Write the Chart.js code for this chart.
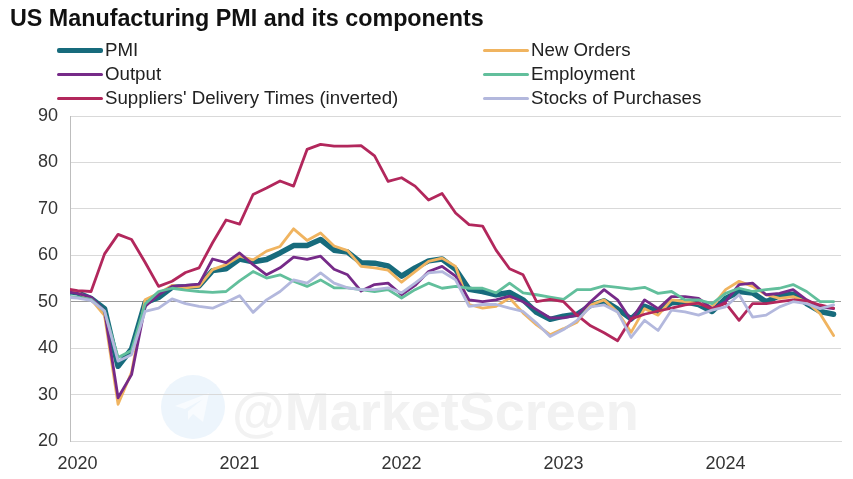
<!DOCTYPE html>
<html>
<head>
<meta charset="utf-8">
<script src="https://cdn.jsdelivr.net/npm/chart.js@4.4.1/dist/chart.umd.min.js"></script>
<style>
html,body{margin:0;padding:0;background:#fff;}
#wrap{position:relative;width:853px;height:479px;overflow:hidden;font-family:"Liberation Sans",Arial,sans-serif;}
#title{position:absolute;left:10px;top:7px;font-size:23.3px;line-height:23px;font-weight:bold;color:#111;white-space:nowrap;}
.leg{position:absolute;height:20px;display:flex;align-items:center;font-size:18.7px;line-height:20px;color:#222;white-space:nowrap;}
.leg .sw{width:46px;margin-right:2px;border-radius:2px;}
#wm{position:absolute;left:232px;top:384px;font-size:54px;line-height:54px;font-weight:bold;color:#f2f2f2;white-space:nowrap;}
#wmicon{position:absolute;left:161px;top:375px;}
canvas{position:absolute;left:0;top:0;}
</style>
</head>
<body>
<div id="wrap">
  <svg id="wmicon" width="64" height="64" viewBox="0 0 64 64"><circle cx="32" cy="32" r="32" fill="#edf5fc"/><polygon points="14,31 48,18 42,47 32,39 27,45 27,36 42,24 24,34" fill="#f8fbfe"/></svg>
  <div id="wm">@MarketScreen</div>
  <canvas id="c" width="853" height="479"></canvas>
  <div id="title">US Manufacturing PMI and its components</div>
  <div id="legend"></div>
</div>
<script>
// ---- Data (Dec 2019 .. Sep 2024, monthly; Dec 2019 sits just left of the axis) ----
const yearLabels = ['2020', '2021', '2022', '2023', '2024'];

const pmi = [52.4,
  51.9, 50.7, 48.5, 36.1, 39.8, 49.8, 50.9, 53.1, 53.2, 53.4, 56.7, 57.1,
  59.2, 58.6, 59.1, 60.5, 62.1, 62.1, 63.4, 61.1, 60.7, 58.4, 58.3, 57.7,
  55.5, 57.3, 58.8, 59.2, 57.0, 52.7, 52.2, 51.5, 52.0, 50.4, 47.7, 46.2,
  46.9, 47.3, 49.2, 50.2, 48.4, 46.3, 49.0, 47.9, 49.8, 50.0, 49.4, 47.9,
  50.7, 52.2, 51.9, 50.0, 51.3, 51.6, 49.6, 47.9, 47.3];

const newOrders = [52.5,
  52.0, 50.5, 47.0, 27.9, 34.8, 50.4, 51.8, 53.5, 53.0, 53.3, 56.9, 58.0,
  59.8, 59.0, 60.9, 61.9, 65.7, 63.2, 64.8, 62.0, 61.0, 57.6, 57.3, 56.8,
  54.2, 56.5, 58.7, 59.4, 57.6, 49.4, 48.6, 49.0, 50.8, 47.6, 45.0, 42.9,
  44.2, 45.6, 49.3, 50.4, 47.8, 43.4, 48.5, 47.1, 50.4, 50.0, 49.6, 48.9,
  52.6, 54.4, 53.3, 51.5, 50.7, 51.1, 50.0, 47.4, 42.7];

const output = [52.3,
  51.8, 51.0, 48.0, 29.3, 34.3, 49.0, 51.5, 53.3, 53.5, 53.8, 59.2, 58.4,
  60.5, 58.0, 55.8, 57.3, 59.6, 59.1, 59.8, 57.0, 55.8, 52.3, 53.7, 54.0,
  51.5, 53.5, 56.5, 57.6, 55.5, 50.4, 50.0, 50.4, 51.2, 50.0, 48.3, 46.5,
  46.5, 47.1, 50.0, 52.6, 50.4, 46.0, 50.4, 48.5, 51.1, 51.1, 50.7, 48.5,
  50.0, 53.7, 54.0, 51.5, 51.8, 52.6, 50.4, 48.9, 48.5];

const employment = [51.2,
  51.0, 50.5, 48.0, 38.0, 39.5, 49.5, 52.2, 52.9, 52.5, 52.2, 52.0, 52.2,
  54.5, 56.5, 55.1, 55.8, 54.4, 53.3, 54.7, 53.0, 53.0, 52.6, 52.2, 52.6,
  50.8, 52.6, 54.0, 52.9, 53.3, 52.9, 52.9, 51.9, 54.0, 51.9, 51.5, 51.0,
  50.5, 52.6, 52.6, 53.4, 53.1, 52.7, 53.1, 51.8, 52.2, 50.4, 50.4, 49.6,
  51.8, 52.9, 52.2, 52.6, 52.9, 53.7, 52.2, 50.0, 50.0];

const suppliers = [52.8,
  52.4, 52.2, 60.3, 64.5, 63.4, 58.5, 53.3, 54.4, 56.3, 57.3, 62.7, 67.6,
  66.7, 73.1, 74.5, 76.0, 74.9, 82.8, 83.9, 83.5, 83.5, 83.6, 81.4, 75.9,
  76.7, 74.9, 71.9, 73.3, 69.1, 66.6, 66.3, 61.1, 57.1, 55.8, 50.0, 50.5,
  50.0, 47.1, 44.8, 43.3, 41.6, 46.3, 47.3, 48.0, 48.6, 49.3, 49.7, 48.4,
  49.7, 46.0, 49.6, 49.6, 50.0, 50.4, 50.2, 49.3, 48.6];

const stocks = [51.0,
  50.8, 50.3, 48.0, 37.2, 38.6, 47.9, 48.6, 50.6, 49.6, 49.0, 48.6, 49.9,
  51.3, 47.7, 50.4, 52.2, 54.7, 54.0, 56.2, 54.0, 53.0, 52.6, 52.6, 53.0,
  51.9, 54.0, 56.2, 56.5, 54.7, 49.0, 49.4, 49.4, 48.6, 47.9, 45.4, 42.5,
  44.0, 46.0, 48.9, 49.3, 47.8, 42.3, 46.0, 43.8, 48.2, 47.8, 47.1, 48.2,
  48.9, 51.5, 46.7, 47.1, 48.9, 50.0, 49.6, 48.5, 49.3];

const seriesNames = ['PMI', 'New Orders', 'Output', 'Employment', "Suppliers' Delivery Times (inverted)", 'Stocks of Purchases'];
const seriesData = [pmi, newOrders, output, employment, suppliers, stocks];
const seriesColors = ['#176b7c', '#f0b460', '#762a88', '#62bf9c', '#b2275c', '#b3b8dd'];
const seriesWidths = [5.5, 2.8, 2.8, 2.8, 2.8, 2.8];

// ---- Build chart ----
const FONT = '"Liberation Sans", Arial, sans-serif';
const datasets = seriesData.map((arr, k) => ({
  label: seriesNames[k],
  data: arr.map((v, i) => ({ x: i - 1, y: v })),
  borderColor: seriesColors[k],
  backgroundColor: seriesColors[k],
  borderWidth: seriesWidths[k],
  pointRadius: 0,
  tension: 0,
  fill: false,
  borderJoinStyle: 'round',
  borderCapStyle: 'round',
  order: seriesData.length - k
}));

new Chart(document.getElementById('c'), {
  type: 'line',
  data: { datasets },
  options: {
    responsive: false,
    animation: false,
    devicePixelRatio: 1,
    layout: { padding: { left: 0, top: 116, right: 12, bottom: 0 } },
    plugins: { legend: { display: false }, tooltip: { enabled: false }, title: { display: false } },
    scales: {
      x: {
        type: 'linear',
        min: -0.56,
        max: 56.55,
        afterFit(s) { s.height = 38; },
        afterBuildTicks(s) { s.ticks = yearLabels.map((_, k) => ({ value: k * 12 })); },
        ticks: {
          callback: (v) => yearLabels[Math.round(v / 12)],
          font: { family: FONT, size: 18 },
          color: '#333',
          padding: 12,
          maxRotation: 0,
          autoSkip: false,
          includeBounds: false
        },
        grid: { display: false, drawTicks: false },
        border: { display: true, color: '#d9d9d9', width: 1 }
      },
      y: {
        min: 20,
        max: 90,
        afterFit(s) { s.width = 70; },
        ticks: {
          stepSize: 10,
          font: { family: FONT, size: 18 },
          color: '#333',
          padding: 12
        },
        grid: {
          color: (ctx) => (ctx.tick && ctx.tick.value === 50) ? '#9a9a9a' : '#d9d9d9',
          lineWidth: 1,
          drawTicks: false
        },
        border: { display: true, color: '#bdbdbd', width: 1 }
      }
    }
  }
});

// ---- HTML legend, two columns ----
const legendPos = [
  { left: 57, top: 40 }, { left: 483, top: 40 },
  { left: 57, top: 64 }, { left: 483, top: 64 },
  { left: 57, top: 88 }, { left: 483, top: 88 }
];
const legendEl = document.getElementById('legend');
seriesNames.forEach((name, k) => {
  const d = document.createElement('div');
  d.className = 'leg';
  d.style.left = legendPos[k].left + 'px';
  d.style.top = legendPos[k].top + 'px';
  const sw = document.createElement('span');
  sw.className = 'sw';
  sw.style.height = (k === 0 ? 5 : 3) + 'px';
  sw.style.background = seriesColors[k];
  const t = document.createElement('span');
  t.textContent = name;
  d.appendChild(sw);
  d.appendChild(t);
  legendEl.appendChild(d);
});
</script>
</body>
</html>
